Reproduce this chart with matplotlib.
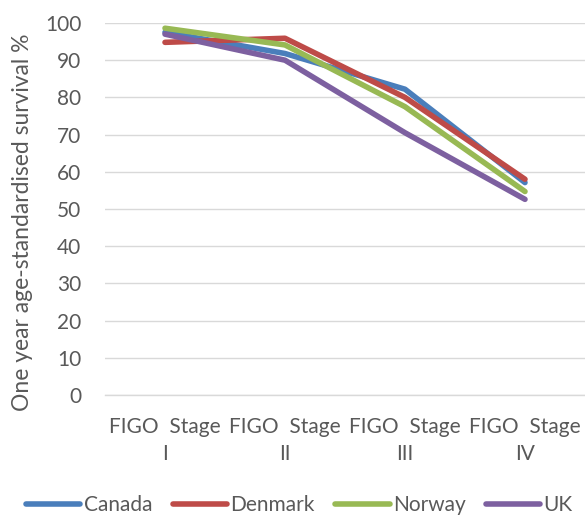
import matplotlib
matplotlib.use("Agg")
import matplotlib.pyplot as plt

categories = ["FIGO  Stage\nI", "FIGO  Stage\nII", "FIGO  Stage\nIII", "FIGO  Stage\nIV"]
series_names = ["Canada", "Denmark", "Norway", "UK"]
canada = [97.5, 91.8, 82.2, 57.1]
denmark = [94.8, 95.9, 80.0, 58.0]
norway = [98.6, 94.1, 77.5, 54.7]
uk = [97.0, 90.0, 70.5, 52.6]
yticks = list(range(0, 101, 10))

colors = ["#4A7EBB", "#BE4B48", "#98B954", "#7D60A0"]
text_color = "#595959"
font = ["Lato", "DejaVu Sans"]

fig = plt.figure(figsize=(5.85, 5.18), dpi=100)
ax = fig.add_axes([105/585, 1-395/518, 480/585, 372/518])

x = list(range(len(categories)))
for vals, name, c in zip([canada, denmark, norway, uk], series_names, colors):
    ax.plot(x, vals, color=c, lw=4, solid_capstyle="round", solid_joinstyle="round", label=name, zorder=3)

ax.set_xlim(-0.5, len(categories) - 0.5)
ax.set_ylim(0, 100)
ax.set_yticks(yticks)
ax.set_yticklabels([str(v) for v in yticks], fontsize=15, color=text_color, family=font)
ax.set_xticks(x)
ax.set_xticklabels(categories, fontsize=15, color=text_color, family=font, linespacing=1.45)
ax.tick_params(axis="both", length=0)
ax.tick_params(axis="y", pad=17)
ax.tick_params(axis="x", pad=16)
ax.grid(axis="y", color="#D9D9D9", lw=1, zorder=0)
for s in ["top", "right", "left"]:
    ax.spines[s].set_visible(False)
ax.spines["bottom"].set_color("#D9D9D9")
ax.spines["bottom"].set_linewidth(1)

fig.text(23/585, 1-222/518, "One year age-standardised survival %", rotation=90,
         ha="center", va="center", fontsize=16.5, color=text_color, family=font)

leg = fig.legend(loc="center", bbox_to_anchor=(0.5 + 7/585, 1-505/518), ncol=4, frameon=False,
                 prop={"family": font, "size": 15}, handlelength=2.6, handletextpad=0.15,
                 columnspacing=1.0)
for t in leg.get_texts():
    t.set_color(text_color)

fig.savefig("out.png", dpi=100)
